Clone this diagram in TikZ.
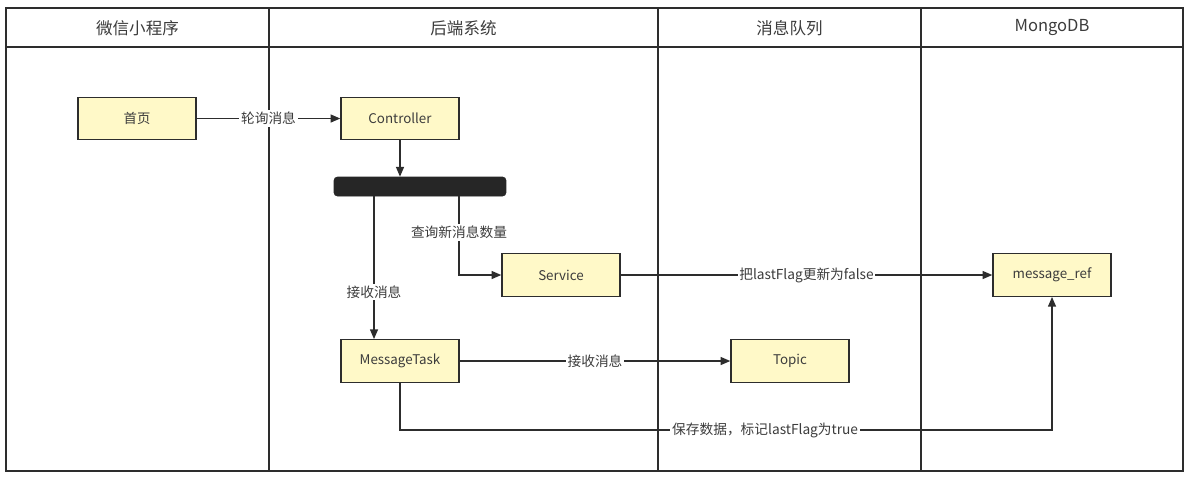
\documentclass[tikz,border=0pt]{standalone}
\usepackage{fontspec}
\setmainfont{Noto Sans CJK SC}
\usetikzlibrary{arrows.meta, positioning}
\definecolor{boxyellow}{RGB}{255, 249, 200}
\definecolor{linegray}{RGB}{45, 45, 45}
\definecolor{textgray}{RGB}{60, 60, 60}
\definecolor{bardark}{RGB}{38, 38, 38}

\begin{document}
\begin{tikzpicture}[x=0.02cm, y=-0.02cm, >={Triangle[length=5.5pt, width=4.5pt]},
    lane/.style={draw=linegray, line width=1.1pt},
    box/.style={draw=linegray, line width=0.8pt, fill=boxyellow, text=textgray, minimum width=2.36cm, minimum height=0.85cm, font=\fontsize{7.6}{9}\selectfont},
    head/.style={text=textgray, font=\fontsize{9.4}{11}\selectfont},
    lbl/.style={fill=white, text=textgray, inner sep=1pt, font=\fontsize{7.8}{9}\selectfont},
    conn/.style={draw=linegray, line width=0.8pt, ->}]
    \useasboundingbox[fill=white] (0,0) rectangle (1189,478);

    % swimlanes
    \draw[lane] (6,8) rectangle (1183,471);
    \draw[lane] (6,47) -- (1183,47);
    \draw[lane] (269,8) -- (269,471);
    \draw[lane] (658,8) -- (658,471);
    \draw[lane] (921,8) -- (921,471);

    \node[head] (wxapp) at (137.5,28) {微信小程序};
    \node[head] (backend) at (463.5,28) {后端系统};
    \node[head] (mqueue) at (789.5,28) {消息队列};
    \node[head] (mongo) at (1052,28) {MongoDB};

    % nodes
    \node[box] (home) at (137,118.5) {首页};
    \node[box] (ctrl) at (400,118.5) {Controller};
    \node[draw=bardark, fill=bardark, rounded corners=2pt, minimum width=3.44cm, minimum height=0.38cm, inner sep=0pt] (bar) at (420,186.5) {};
    \node[box] (svc) at (561,275) {Service};
    \node[box] (msgref) at (1052,275) {message\_ref};
    \node[box] (task) at (400,361) {MessageTask};
    \node[box] (topic) at (790,361) {Topic};

    \coordinate (fork1) at (374,196);
    \coordinate (fork2) at (459,196);
    \coordinate (save) at (400,430);

    % connectors
    \draw[conn] (home) -- node[lbl] {轮询消息} (ctrl);
    \draw[conn] (ctrl) -- (ctrl |- bar.north);
    \draw[conn] (fork1) -- node[lbl, pos=0.67] {接收消息} (fork1 |- task.north);
    \draw[conn] (fork2) |- node[lbl, pos=0.23] {查询新消息数量} (svc);
    \draw[conn] (svc) -- node[lbl] {把lastFlag更新为false} (msgref);
    \draw[conn] (task) -- node[lbl] {接收消息} (topic);
    \draw[conn] (task.south) -- (save) -| node[lbl, pos=0.28] {保存数据，标记lastFlag为true} (msgref.south);
\end{tikzpicture}
\end{document}
